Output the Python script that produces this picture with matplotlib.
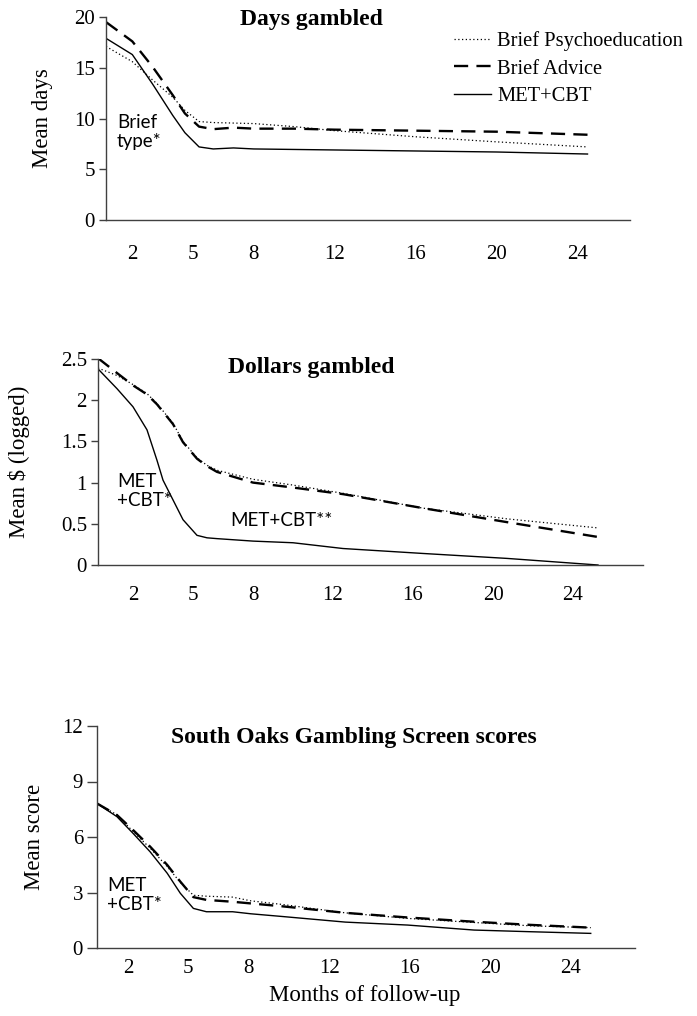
import matplotlib
matplotlib.use("Agg")
import matplotlib.pyplot as plt

W, H = 697, 1016

# ---------------- data ----------------
tick_months = [2, 5, 8, 12, 16, 20, 24]
tick_labels = ["2", "5", "8", "12", "16", "20", "24"]
series_names = ["Brief Psychoeducation", "Brief Advice", "MET+CBT"]

days_x = [0.7, 2, 3, 4, 4.6, 5.3, 6, 7, 8, 10, 12, 16, 20, 24.5]
days_psy = [17.1, 15.6, 13.8, 12.1, 10.8, 9.7, 9.6, 9.55, 9.5, 9.2, 8.8, 8.2, 7.7, 7.2]
days_adv = [19.5, 17.6, 15.1, 12.3, 10.5, 9.2, 8.95, 9.1, 9.0, 9.0, 8.9, 8.8, 8.7, 8.4]
days_met = [17.9, 16.3, 13.4, 10.3, 8.6, 7.2, 7.0, 7.1, 7.0, 6.95, 6.9, 6.8, 6.7, 6.5]

dollars_x = [0.25, 1.2, 2, 2.7, 3.2, 3.5, 4, 4.5, 5.2, 5.7, 6.2, 8, 10, 12.5, 16.5, 20.7, 25.25]
dollars_psy = [2.39, 2.30, 2.19, 2.08, 1.96, 1.87, 1.72, 1.50, 1.30, 1.21, 1.15, 1.04, 0.97, 0.87, 0.69, 0.56, 0.45]
dollars_adv = [2.51, 2.33, 2.18, 2.07, 1.95, 1.86, 1.71, 1.49, 1.29, 1.20, 1.13, 1.00, 0.94, 0.86, 0.69, 0.52, 0.34]
dollars_met = [2.38, 2.14, 1.92, 1.64, 1.27, 1.03, 0.79, 0.55, 0.36, 0.33, 0.32, 0.29, 0.27, 0.20, 0.14, 0.08, 0.0]

sogs_x = [0.45, 1.45, 2.25, 3.1, 3.95, 4.6, 5.25, 5.9, 7.2, 8.1, 9.7, 12.8, 15.9, 19.2, 22, 25]
sogs_psy = [7.82, 7.20, 6.30, 5.40, 4.40, 3.55, 2.85, 2.80, 2.75, 2.55, 2.35, 1.90, 1.60, 1.38, 1.20, 1.10]
sogs_adv = [7.82, 7.19, 6.38, 5.48, 4.49, 3.59, 2.75, 2.60, 2.50, 2.41, 2.25, 1.90, 1.65, 1.42, 1.25, 1.10]
sogs_met = [7.82, 7.10, 6.20, 5.20, 4.04, 2.96, 2.14, 1.96, 1.96, 1.85, 1.70, 1.40, 1.24, 0.97, 0.88, 0.79]

# ---------------- style ----------------
SERIF = ["Liberation Serif", "DejaVu Serif"]
SANS = ["Lato", "DejaVu Sans"]
plt.rcParams["font.family"] = SERIF

fig = plt.figure(figsize=(W / 100, H / 100), dpi=100)


def fx(px):
    return px / W


def fy(py):
    return 1 - py / H


styles = [
    dict(color="black", lw=0.9, linestyle=(0, (1, 2))),
    dict(color="black", lw=1.7, linestyle=(0, (6, 3.5))),
    dict(color="black", lw=1.0, linestyle="-"),
]


def make_panel(rect_px, xlim, ylim, yticks, yticklabels, x, ys, xpad, ylen):
    left, top, right, bottom = rect_px
    ax = fig.add_axes([fx(left), fy(bottom), (right - left) / W, (bottom - top) / H])
    lines = []
    for y, st in zip(ys, styles):
        ln, = ax.plot(x, y, **st)
        lines.append(ln)
    ax.set_xlim(*xlim)
    ax.set_ylim(*ylim)
    ax.set_xticks(tick_months)
    ax.set_xticklabels(tick_labels)
    ax.set_yticks(yticks)
    ax.set_yticklabels(yticklabels)
    for s in ["top", "right"]:
        ax.spines[s].set_visible(False)
    for s in ["left", "bottom"]:
        ax.spines[s].set_color("#404040")
        ax.spines[s].set_linewidth(1.0)
    ax.tick_params(axis="x", length=0, pad=xpad, labelsize=15)
    ax.tick_params(axis="y", length=ylen, width=1.0, color="#404040", pad=3, labelsize=15, direction="out")
    ax.patch.set_alpha(0)
    return ax, lines


# Panel 1
ax1, lines1 = make_panel((106, 17, 630, 220), (0.7, 26.6), (0, 20), [0, 5, 10, 15, 20],
                         ["0", "5", "10", "15", "20"], days_x, [days_psy, days_adv, days_met], 18, 5)
ax1.set_ylabel("Mean days", fontsize=16.5)
ax1.yaxis.set_label_coords((43 - 106) / (630 - 106), 0.5)
ax1.yaxis.label.set_va("center")
fig.text(fx(311), fy(19), "Days gambled", ha="center", va="center", fontsize=17, fontweight="bold")
fig.text(fx(117), fy(132), "Brief\ntype*", ha="left", va="center", fontsize=13.5, family=SANS, linespacing=1.2)
fig.legend(lines1, series_names, loc="upper left", bbox_to_anchor=(fx(454), fy(31)), frameon=False,
           fontsize=14.8, borderpad=0, borderaxespad=0, handlelength=1.8, handletextpad=0.3, labelspacing=0.4)

# Panel 2
ax2, _ = make_panel((98, 359, 643, 565), (0.25, 27.5), (0, 2.5), [0, 0.5, 1, 1.5, 2, 2.5],
                    ["0", "0.5", "1", "1.5", "2", "2.5"], dollars_x, [dollars_psy, dollars_adv, dollars_met], 15, 5)
ax2.set_ylabel(r"Mean \$ (logged)", fontsize=16.5)
ax2.yaxis.set_label_coords((19 - 98) / (643 - 98), 0.5)
ax2.yaxis.label.set_va("center")
fig.text(fx(311), fy(367), "Dollars gambled", ha="center", va="center", fontsize=17, fontweight="bold")
fig.text(fx(117), fy(491), "MET\n+CBT*", ha="left", va="center", fontsize=13.5, family=SANS, linespacing=1.2)
fig.text(fx(230), fy(521), "MET+CBT**", ha="left", va="center", fontsize=13.5, family=SANS)

# Panel 3
ax3, _ = make_panel((97, 726, 635, 948), (0.46, 27.2), (0, 12), [0, 3, 6, 9, 12],
                    ["0", "3", "6", "9", "12"], sogs_x, [sogs_psy, sogs_adv, sogs_met], 8, 7)
ax3.set_ylabel("Mean score", fontsize=16.5)
ax3.yaxis.set_label_coords((34 - 97) / (635 - 97), 0.5)
ax3.yaxis.label.set_va("center")
fig.text(fx(354), fy(737), "South Oaks Gambling Screen scores", ha="center", va="center", fontsize=17,
         fontweight="bold")
fig.text(fx(107), fy(895), "MET\n+CBT*", ha="left", va="center", fontsize=13.5, family=SANS, linespacing=1.2)
fig.text(fx(365), fy(995), "Months of follow-up", ha="center", va="center", fontsize=16.5)

fig.savefig("out.png", dpi=100, facecolor="white")
